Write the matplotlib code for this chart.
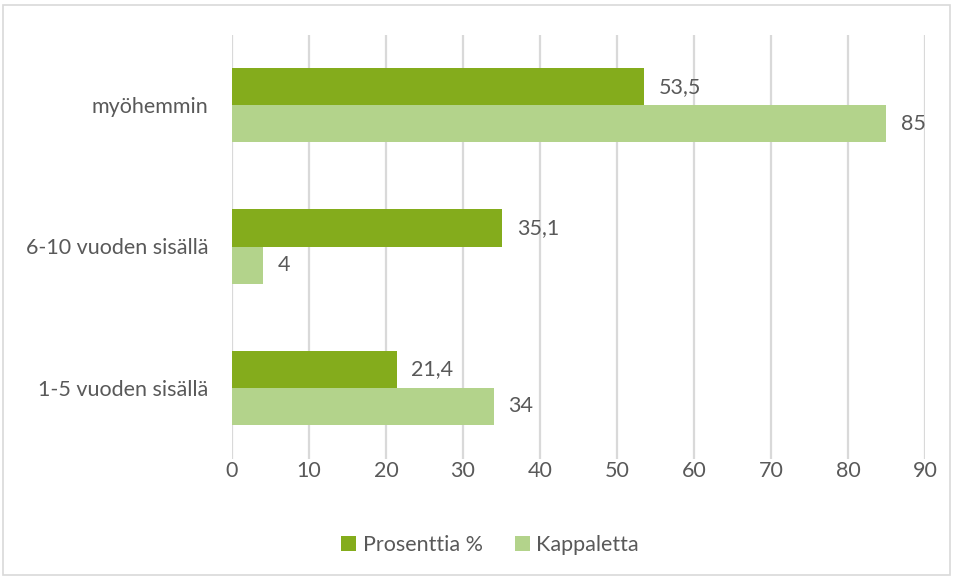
import matplotlib
matplotlib.use("Agg")
import matplotlib.pyplot as plt
from matplotlib.patches import Rectangle
import numpy as np

categories = ["1-5 vuoden sisällä", "6-10 vuoden sisällä", "myöhemmin"]
prosenttia = [21.4, 35.1, 53.5]
kappaletta = [34, 4, 85]
prosenttia_labels = ["21,4", "35,1", "53,5"]
kappaletta_labels = ["34", "4", "85"]
xticks = [0, 10, 20, 30, 40, 50, 60, 70, 80, 90]

dark = "#84AC1C"
light = "#B3D38B"
txt = "#595959"
grid = "#D9D9D9"

plt.rcParams['font.family'] = ['Lato', 'DejaVu Sans']
fs = 15.5

fig = plt.figure(figsize=(9.54, 5.78), dpi=100)
ax = fig.add_axes([232/954, 1-458.5/578, (925-232)/954, (458.5-34.5)/578])

y = np.arange(len(categories))
h = 0.262
ax.barh(y + h/2, prosenttia, height=h, color=dark, label="Prosenttia %", zorder=3)
ax.barh(y - h/2, kappaletta, height=h, color=light, label="Kappaletta", zorder=3)

for yi, v, l in zip(y, prosenttia, prosenttia_labels):
    ax.text(v + 1.9, yi + h/2, l, va="center", ha="left", fontsize=fs, color=txt)
for yi, v, l in zip(y, kappaletta, kappaletta_labels):
    ax.text(v + 1.9, yi - h/2, l, va="center", ha="left", fontsize=fs, color=txt)

ax.set_xlim(0, 90)
ax.set_ylim(-0.5, 2.5)
ax.set_xticks(xticks)
ax.set_xticklabels([str(t) for t in xticks])
ax.set_yticks(y)
ax.set_yticklabels(categories)
ax.tick_params(axis="both", length=0, labelsize=fs, labelcolor=txt)
ax.tick_params(axis="x", pad=2)
ax.tick_params(axis="y", pad=17)
ax.grid(axis="x", color=grid, linewidth=1.6, zorder=0)
for s in ax.spines.values():
    s.set_visible(False)

leg = ax.legend(loc="center", bbox_to_anchor=(490/954, 1-545/578), bbox_transform=fig.transFigure,
                ncol=2, frameon=False, fontsize=fs, handlelength=0.7, handleheight=0.7,
                columnspacing=1.5, handletextpad=0.3)
for t in leg.get_texts():
    t.set_color(txt)

fig.patches.append(Rectangle((3/954, 1-575/578), (950-3)/954, (575-5)/578, transform=fig.transFigure,
                             fill=False, edgecolor=grid, linewidth=1.2))

fig.savefig("out.png", dpi=100)
